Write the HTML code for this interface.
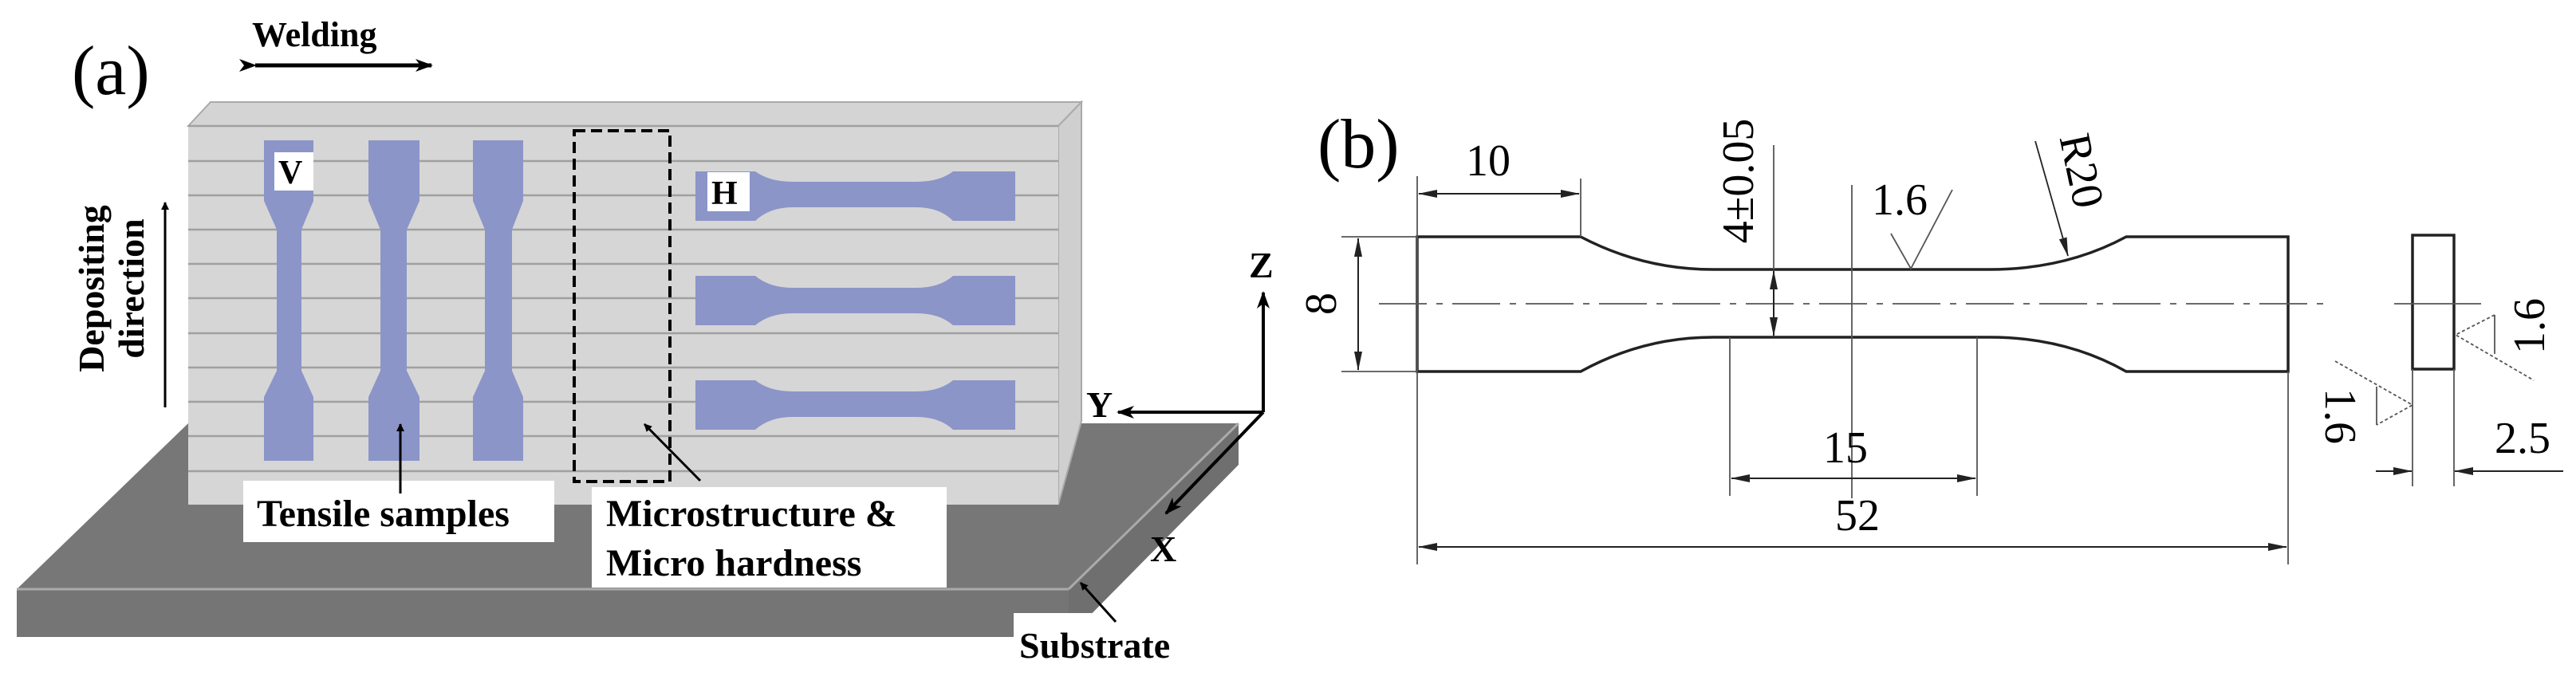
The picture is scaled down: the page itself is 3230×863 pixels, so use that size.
<!DOCTYPE html>
<html><head><meta charset="utf-8"><style>
html,body{margin:0;padding:0;background:#fff;}
svg{display:block;font-family:"Liberation Serif","Times New Roman",serif;}
svg text{font-family:"Liberation Serif","Times New Roman",serif !important;}
.b{font-weight:bold;}
</style></head><body>
<svg width="3230" height="863" viewBox="0 0 3230 863" xmlns="http://www.w3.org/2000/svg" font-family="Liberation Serif, Times New Roman, serif">
<defs>
<marker id="ah" markerWidth="10" markerHeight="10" refX="9" refY="5" orient="auto" markerUnits="userSpaceOnUse"><path d="M0,0 L10,5 L0,10 Z" fill="#000"/></marker>
<marker id="ahb" markerWidth="22" markerHeight="16" refX="20" refY="8" orient="auto" markerUnits="userSpaceOnUse"><path d="M0,0 L22,8 L0,16 L6,8 Z" fill="#000"/></marker>
<marker id="ahs" markerWidth="24" markerHeight="12" refX="23" refY="6" orient="auto-start-reverse" markerUnits="userSpaceOnUse"><path d="M0,1 L24,6 L0,11 Z" fill="#222"/></marker>
</defs>
<!-- (a) -->
<text x="90" y="118" font-size="88" font-family="Liberation Serif, serif">(a)</text>
<text x="316" y="58" font-size="44" class="b" font-family="Liberation Serif, serif">Welding</text>
<line x1="320" y1="82" x2="541" y2="82" stroke="#000" stroke-width="5" marker-end="url(#ahb)" marker-start="url(#ahb)"/>
<!-- substrate -->
<polygon points="21,739 236,531 1553,531 1340,739" fill="#777"/>
<polygon points="21,739 1340,739 1340,799 21,799" fill="#757575"/>
<line x1="21" y1="739" x2="1340" y2="739" stroke="#aaa" stroke-width="3"/>
<polygon points="1340,739 1553,531 1553,583 1340,799" fill="#6f6f6f"/>
<line x1="1340" y1="739" x2="1553" y2="531" stroke="#aaa" stroke-width="3"/>
<!-- wall -->
<polygon points="236,158 264,128 1356,128 1327,158" fill="#d4d4d4" stroke="#aaa" stroke-width="2"/>
<polygon points="1327,158 1356,128 1356,528 1327,633" fill="#cfcfcf" stroke="#aaa" stroke-width="2"/>
<rect x="236" y="158" width="1091" height="475" fill="#d6d6d6"/>
<g stroke="#a0a0a0" stroke-width="2.5">
<line x1="236" y1="158" x2="1327" y2="158"/>
<line x1="236" y1="202" x2="1327" y2="202"/><line x1="236" y1="245" x2="1327" y2="245"/>
<line x1="236" y1="288" x2="1327" y2="288"/><line x1="236" y1="331" x2="1327" y2="331"/>
<line x1="236" y1="374" x2="1327" y2="374"/><line x1="236" y1="418" x2="1327" y2="418"/>
<line x1="236" y1="461" x2="1327" y2="461"/><line x1="236" y1="504" x2="1327" y2="504"/>
<line x1="236" y1="547" x2="1327" y2="547"/><line x1="236" y1="591" x2="1327" y2="591"/>
</g>
<g fill="#8c95c8">
<path d="M331,176 H393 V252 L378,288 V465 L393,498 V578 H331 V498 L347,465 V288 L331,252 Z"/>
<path d="M462,176 H526 V252 L510,288 V465 L526,498 V578 H462 V498 L477,465 V288 L462,252 Z"/>
<path d="M593,176 H656 V252 L642,288 V465 L656,498 V578 H593 V498 L608,465 V288 L593,252 Z"/>
<path d="M872,215 H947 Q965,228 994,228 H1149 Q1178,228 1195,215 H1273 V277 H1195 Q1178,260 1149,260 H994 Q965,260 947,277 H872 Z"/>
<path d="M872,346 H947 Q965,361 994,361 H1149 Q1178,361 1195,346 H1273 V408 H1195 Q1178,393 1149,393 H994 Q965,393 947,408 H872 Z"/>
<path d="M872,477 H947 Q965,491 994,491 H1149 Q1178,491 1195,477 H1273 V539 H1195 Q1178,523 1149,523 H994 Q965,523 947,539 H872 Z"/>
</g>
<rect x="344" y="191" width="49" height="48" fill="#fff"/>
<text x="349" y="230" font-size="42" class="b" font-family="Liberation Serif, serif">V</text>
<rect x="887" y="216" width="53" height="49" fill="#fff"/>
<text x="892" y="256" font-size="42" class="b" font-family="Liberation Serif, serif">H</text>
<rect x="720" y="164" width="120" height="440" fill="none" stroke="#000" stroke-width="4" stroke-dasharray="14,7"/>
<text transform="translate(130,362) rotate(-90)" text-anchor="middle" font-size="46" class="b" font-family="Liberation Serif, serif">Depositing</text>
<text transform="translate(180,362) rotate(-90)" text-anchor="middle" font-size="46" class="b" font-family="Liberation Serif, serif">direction</text>
<line x1="207" y1="511" x2="207" y2="254" stroke="#000" stroke-width="3" marker-end="url(#ah)"/>
<rect x="305" y="603" width="390" height="77" fill="#fff"/>
<text x="322" y="660" font-size="48" class="b" font-family="Liberation Serif, serif">Tensile samples</text>
<line x1="502" y1="619" x2="502" y2="532" stroke="#000" stroke-width="3" marker-end="url(#ah)"/>
<rect x="742" y="611" width="445" height="126" fill="#fff"/>
<text x="760" y="660" font-size="48" class="b" font-family="Liberation Serif, serif">Microstructure &amp;</text>
<text x="760" y="722" font-size="48" class="b" font-family="Liberation Serif, serif">Micro hardness</text>
<line x1="878" y1="603" x2="808" y2="532" stroke="#000" stroke-width="3" marker-end="url(#ah)"/>
<line x1="1584" y1="517" x2="1584" y2="367" stroke="#000" stroke-width="4" marker-end="url(#ahb)"/>
<line x1="1584" y1="517" x2="1402" y2="517" stroke="#000" stroke-width="4" marker-end="url(#ahb)"/>
<line x1="1584" y1="517" x2="1462" y2="644" stroke="#000" stroke-width="4" marker-end="url(#ahb)"/>
<text x="1566" y="348" font-size="46" class="b" font-family="Liberation Serif, serif">Z</text>
<text x="1362" y="523" font-size="46" class="b" font-family="Liberation Serif, serif">Y</text>
<text x="1442" y="704" font-size="46" class="b" font-family="Liberation Serif, serif">X</text>
<rect x="1271" y="769" width="235" height="77" fill="#fff"/>
<text x="1278" y="825" font-size="46" class="b" font-family="Liberation Serif, serif">Substrate</text>
<line x1="1399" y1="780" x2="1355" y2="731" stroke="#000" stroke-width="3" marker-end="url(#ah)"/>

<!-- (b) -->
<text x="1652" y="210" font-size="88" font-family="Liberation Serif, serif">(b)</text>
<g fill="none" stroke="#222" stroke-width="3.5">
<path d="M1777,297 H1982 Q2060,338 2148,338 H2495 Q2590,338 2666,297 H2869 V466 H2666 Q2590,423 2495,423 H2148 Q2060,423 1982,466 H1777 Z"/>
<rect x="3025" y="295" width="52" height="168"/>
</g>
<g stroke="#555" stroke-width="1.8" fill="none">
<line x1="1729" y1="381" x2="2914" y2="381" stroke-dasharray="60,12,8,12"/>
<line x1="3002" y1="381" x2="3111" y2="381"/>
<line x1="1777" y1="221" x2="1777" y2="708"/>
<line x1="1982" y1="224" x2="1982" y2="297"/>
<line x1="2869" y1="466" x2="2869" y2="708"/>
<line x1="1682" y1="297" x2="1777" y2="297"/>
<line x1="1682" y1="466" x2="1777" y2="466"/>
<line x1="2224" y1="182" x2="2224" y2="338"/>
<line x1="2322" y1="232" x2="2322" y2="625"/>
<line x1="2169" y1="423" x2="2169" y2="622"/>
<line x1="2479" y1="423" x2="2479" y2="622"/>
<line x1="3025" y1="463" x2="3025" y2="610"/>
<line x1="3077" y1="463" x2="3077" y2="610"/>
<polyline points="2371,293 2396,337 2448,238"/>
<line x1="2552" y1="177" x2="2593" y2="321" stroke="#222" marker-end="url(#ahs)"/>
<polyline points="3128,395 3079,420 3177,477" stroke-dasharray="4,3"/>
<line x1="3128" y1="395" x2="3128" y2="444"/>
<polyline points="2928,453 3025,508 2980,533" stroke-dasharray="4,3"/>
<line x1="2980" y1="485" x2="2980" y2="533"/>
</g>
<g stroke="#222" stroke-width="2">
<line x1="1779" y1="243" x2="1980" y2="243" marker-start="url(#ahs)" marker-end="url(#ahs)"/>
<line x1="1703" y1="299" x2="1703" y2="464" marker-start="url(#ahs)" marker-end="url(#ahs)"/>
<line x1="2224" y1="340" x2="2224" y2="421" marker-start="url(#ahs)" marker-end="url(#ahs)"/>
<line x1="2171" y1="600" x2="2477" y2="600" marker-start="url(#ahs)" marker-end="url(#ahs)"/>
<line x1="1779" y1="686" x2="2867" y2="686" marker-start="url(#ahs)" marker-end="url(#ahs)"/>
<line x1="2979" y1="591" x2="3024" y2="591" marker-end="url(#ahs)"/>
<line x1="3214" y1="591" x2="3078" y2="591" marker-end="url(#ahs)"/>
</g>
<g font-family="Liberation Serif, serif" font-size="56">
<text x="1838" y="220">10</text>
<text transform="translate(1675,381) rotate(-90)" text-anchor="middle">8</text>
<text transform="translate(2198,227) rotate(-90)" text-anchor="middle">4±0.05</text>
<text x="2347" y="269">1.6</text>
<text transform="translate(2592,218) rotate(78)" text-anchor="middle">R20</text>
<text x="2286" y="580">15</text>
<text x="2301" y="665">52</text>
<text transform="translate(3190,409) rotate(-90)" text-anchor="middle">1.6</text>
<text transform="translate(2916,522) rotate(90)" text-anchor="middle">1.6</text>
<text x="3128" y="568">2.5</text>
</g>
</svg>
</body></html>
